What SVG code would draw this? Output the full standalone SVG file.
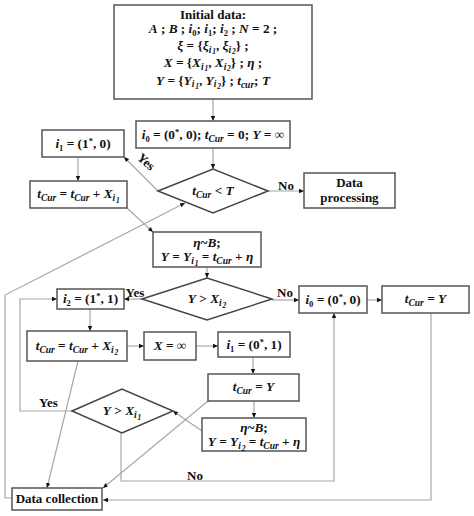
<svg xmlns="http://www.w3.org/2000/svg" width="474" height="516" viewBox="0 0 474 516">
<style>
.box{fill:#fff;stroke:#555;stroke-width:1.5}
.dia{fill:#fff;stroke:#444;stroke-width:1.5}
.ln{fill:none;stroke:#a8a8a8;stroke-width:1.2;marker-end:url(#ah)}
.t{font-family:"Liberation Serif",serif;font-weight:bold;font-size:13px;text-anchor:middle;fill:#111}
.f{font-size:13.3px}
.m{font-style:italic}
.s{font-size:9.5px;font-style:italic}
.ss{font-size:7.5px;font-style:italic}
.sp{font-size:8.5px}
</style>
<defs>
<marker id="ah" markerUnits="userSpaceOnUse" markerWidth="6" markerHeight="6" refX="5" refY="3" orient="auto">
<path d="M0,0.8 L5,3 L0,5.2 Z" fill="#111"/>
</marker>
</defs>
<g id="connectors">
<path class="ln" d="M213,99 L213,121"/>
<path class="ln" d="M213,148 L213,169"/>
<path class="ln" d="M158,191 L124,157"/>
<path class="ln" d="M78,157 L78,181"/>
<path class="ln" d="M127,208 L153,232"/>
<path class="ln" d="M268,191 L304,191"/>
<path class="ln" d="M207,267 L207,278"/>
<path class="ln" d="M142,299 L124,299"/>
<path class="ln" d="M272,300 L299,300"/>
<path class="ln" d="M367,300 L382,300"/>
<path class="ln" d="M90,309 L90,331"/>
<path class="ln" d="M127,346 L144,346"/>
<path class="ln" d="M196,346 L218,346"/>
<path class="ln" d="M253,357 L253,374"/>
<path class="ln" d="M254,401 L254,418"/>
<path class="ln" d="M202,431 L173,411"/>
<path class="ln" d="M208,401 L103,488"/>
<path class="ln" d="M78,361 L47,488"/>
<path class="ln" d="M72,411 L20,411 L20,299 L57,299"/>
<path class="ln" d="M121,433 L121,481 L334,481 L334,313"/>
<path class="ln" d="M431,313 L431,500 L103,500"/>
<path class="ln" d="M12,498 L5,498 L5,295 L185,203"/>
</g>
<g id="labels" class="t">
<text x="146" y="166" transform="rotate(42 146 162)">Yes</text>
<text x="286" y="190">No</text>
<text x="135" y="297">Yes</text>
<text x="285" y="297">No</text>
<text x="48.5" y="407">Yes</text>
<text x="195" y="480">No</text>
</g>
<g id="initial">
<rect class="box" x="114" y="5" width="198" height="94"/>
<text class="t" x="213" y="18.5">Initial data:</text>
<text class="t f" x="213" y="33"><tspan class="m">A</tspan> ; <tspan class="m">B</tspan> ; <tspan class="m">i</tspan><tspan class="sp" dy="2.5">0</tspan><tspan dy="-2.5">; </tspan><tspan class="m">i</tspan><tspan class="sp" dy="2.5">1</tspan><tspan dy="-2.5">; </tspan><tspan class="m">i</tspan><tspan class="sp" dy="2.5">2</tspan><tspan dy="-2.5"> ; </tspan><tspan class="m">N</tspan> = 2 ;</text>
<text class="t f" x="213" y="50"><tspan class="m">ξ</tspan> = {<tspan class="m">ξ</tspan><tspan class="s" dy="2.5">i</tspan><tspan class="ss" dx="0.8" dy="1.5">1</tspan><tspan dy="-4">, </tspan><tspan class="m">ξ</tspan><tspan class="s" dy="2.5">i</tspan><tspan class="ss" dx="0.8" dy="1.5">2</tspan><tspan dy="-4">} ;</tspan></text>
<text class="t f" x="213" y="67"><tspan class="m">X</tspan> = {<tspan class="m">X</tspan><tspan class="s" dy="2.5">i</tspan><tspan class="ss" dx="0.8" dy="1.5">1</tspan><tspan dy="-4">, </tspan><tspan class="m">X</tspan><tspan class="s" dy="2.5">i</tspan><tspan class="ss" dx="0.8" dy="1.5">2</tspan><tspan dy="-4">} ; </tspan><tspan class="m">η</tspan> ;</text>
<text class="t f" x="213" y="84.5"><tspan class="m">Y</tspan> = {<tspan class="m">Y</tspan><tspan class="s" dy="2.5">i</tspan><tspan class="ss" dx="0.8" dy="1.5">1</tspan><tspan dy="-4">, </tspan><tspan class="m">Y</tspan><tspan class="s" dy="2.5">i</tspan><tspan class="ss" dx="0.8" dy="1.5">2</tspan><tspan dy="-4">} ; </tspan><tspan class="m">t</tspan><tspan class="s" dy="3">cur</tspan><tspan dy="-3">; </tspan><tspan class="m">T</tspan></text>
</g>
<g id="init0">
<rect class="box" x="136" y="121" width="154" height="27"/>
<text class="t f" x="213" y="139"><tspan class="m">i</tspan><tspan class="sp" dy="3">0</tspan><tspan dy="-3"> = (0</tspan><tspan class="sp" dy="-4">*</tspan><tspan dy="4">, 0); </tspan><tspan class="m">t</tspan><tspan class="s" dy="3">Cur</tspan><tspan dy="-3"> = 0; </tspan><tspan class="m">Y</tspan> = ∞</text>
</g>
<g id="cond1">
<polygon class="dia" points="158,191 213,169 268,191 213,213"/>
<text class="t f" x="213" y="195"><tspan class="m">t</tspan><tspan class="s" dy="3">Cur</tspan><tspan dy="-3"> &lt; </tspan><tspan class="m">T</tspan></text>
</g>
<g id="dataproc">
<rect class="box" x="304" y="173" width="91" height="35"/>
<text class="t" x="349.5" y="187">Data</text>
<text class="t" x="349.5" y="202">processing</text>
</g>
<g id="i1a">
<rect class="box" x="42" y="130" width="82" height="27"/>
<text class="t f" x="83" y="148"><tspan class="m">i</tspan><tspan class="sp" dy="3">1</tspan><tspan dy="-3"> = (1</tspan><tspan class="sp" dy="-4">*</tspan><tspan dy="4">, 0)</tspan></text>
</g>
<g id="tcur1">
<rect class="box" x="30" y="181" width="97" height="27"/>
<text class="t f" x="78.5" y="198"><tspan class="m">t</tspan><tspan class="s" dy="3">Cur</tspan><tspan dy="-3"> = </tspan><tspan class="m">t</tspan><tspan class="s" dy="3">Cur</tspan><tspan dy="-3"> + </tspan><tspan class="m">X</tspan><tspan class="s" dy="3">i</tspan><tspan class="ss" dx="0.8" dy="2">1</tspan></text>
</g>
<g id="eta1">
<rect class="box" x="153" y="232" width="108" height="35"/>
<text class="t f" x="207" y="247"><tspan class="m">η</tspan>~<tspan class="m">B</tspan>;</text>
<text class="t f" x="207" y="261"><tspan class="m">Y</tspan> = <tspan class="m">Y</tspan><tspan class="s" dy="3">i</tspan><tspan class="ss" dx="0.8" dy="2">1</tspan><tspan dy="-5"> = </tspan><tspan class="m">t</tspan><tspan class="s" dy="3">Cur</tspan><tspan dy="-3"> + </tspan><tspan class="m">η</tspan></text>
</g>
<g id="cond2">
<polygon class="dia" points="142,299 207,278 272,299 207,320"/>
<text class="t f" x="207" y="303"><tspan class="m">Y</tspan> &gt; <tspan class="m">X</tspan><tspan class="s" dy="3">i</tspan><tspan class="ss" dx="0.8" dy="2">2</tspan></text>
</g>
<g id="i2">
<rect class="box" x="57" y="289" width="67" height="20"/>
<text class="t f" x="90.5" y="303"><tspan class="m">i</tspan><tspan class="sp" dy="3">2</tspan><tspan dy="-3"> = (1</tspan><tspan class="sp" dy="-4">*</tspan><tspan dy="4">, 1)</tspan></text>
</g>
<g id="i0b">
<rect class="box" x="299" y="286" width="68" height="27"/>
<text class="t f" x="333" y="304"><tspan class="m">i</tspan><tspan class="sp" dy="3">0</tspan><tspan dy="-3"> = (0</tspan><tspan class="sp" dy="-4">*</tspan><tspan dy="4">, 0)</tspan></text>
</g>
<g id="tcurY1">
<rect class="box" x="382" y="286" width="87" height="27"/>
<text class="t f" x="425.5" y="303"><tspan class="m">t</tspan><tspan class="s" dy="3">Cur</tspan><tspan dy="-3"> = </tspan><tspan class="m">Y</tspan></text>
</g>
<g id="tcur2">
<rect class="box" x="27" y="331" width="100" height="30"/>
<text class="t f" x="77" y="350"><tspan class="m">t</tspan><tspan class="s" dy="3">Cur</tspan><tspan dy="-3"> = </tspan><tspan class="m">t</tspan><tspan class="s" dy="3">Cur</tspan><tspan dy="-3"> + </tspan><tspan class="m">X</tspan><tspan class="s" dy="3">i</tspan><tspan class="ss" dx="0.8" dy="2">2</tspan></text>
</g>
<g id="xinf">
<rect class="box" x="144" y="332" width="52" height="28"/>
<text class="t f" x="170" y="350"><tspan class="m">X</tspan> = ∞</text>
</g>
<g id="i1b">
<rect class="box" x="218" y="332" width="72" height="25"/>
<text class="t f" x="254" y="349"><tspan class="m">i</tspan><tspan class="sp" dy="3">1</tspan><tspan dy="-3"> = (0</tspan><tspan class="sp" dy="-4">*</tspan><tspan dy="4">, 1)</tspan></text>
</g>
<g id="tcurY2">
<rect class="box" x="208" y="374" width="91" height="27"/>
<text class="t f" x="253.5" y="391"><tspan class="m">t</tspan><tspan class="s" dy="3">Cur</tspan><tspan dy="-3"> = </tspan><tspan class="m">Y</tspan></text>
</g>
<g id="eta2">
<rect class="box" x="202" y="418" width="104" height="33"/>
<text class="t f" x="254" y="432"><tspan class="m">η</tspan>~<tspan class="m">B</tspan>;</text>
<text class="t f" x="254" y="446"><tspan class="m">Y</tspan> = <tspan class="m">Y</tspan><tspan class="s" dy="3">i</tspan><tspan class="ss" dx="0.8" dy="2">2</tspan><tspan dy="-5"> = </tspan><tspan class="m">t</tspan><tspan class="s" dy="3">Cur</tspan><tspan dy="-3"> + </tspan><tspan class="m">η</tspan></text>
</g>
<g id="cond3">
<polygon class="dia" points="72,411 122,389 173,411 122,433"/>
<text class="t f" x="122" y="415"><tspan class="m">Y</tspan> &gt; <tspan class="m">X</tspan><tspan class="s" dy="3">i</tspan><tspan class="ss" dx="0.8" dy="2">1</tspan></text>
</g>
<g id="datacoll">
<rect class="box" x="12" y="488" width="90" height="22"/>
<text class="t" x="57" y="503">Data collection</text>
</g>
</svg>
